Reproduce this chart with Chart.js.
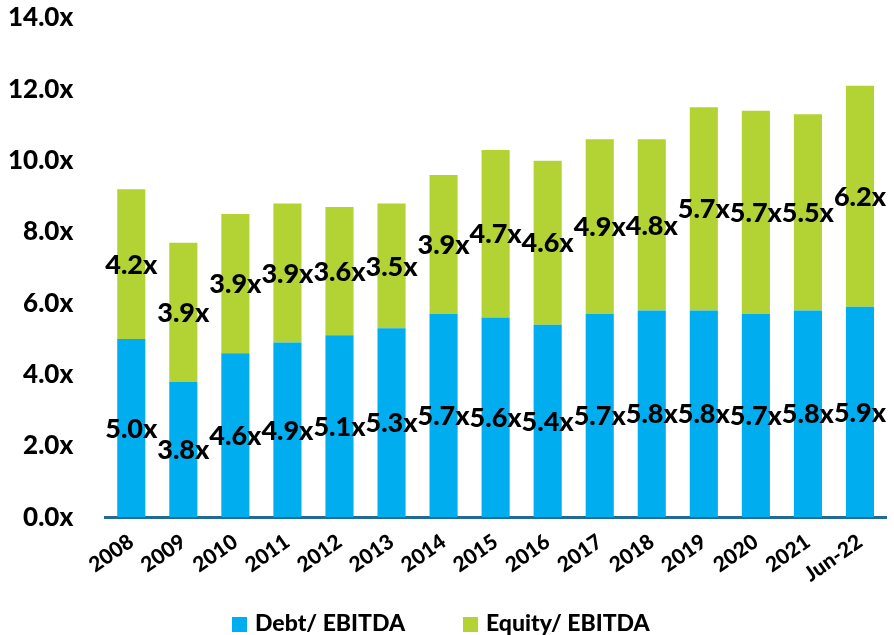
<!DOCTYPE html>
<html>
<head>
<meta charset="utf-8">
<script src="https://cdn.jsdelivr.net/npm/chart.js@4"></script>
<style>
  html, body { margin: 0; padding: 0; background: #fff; }
  #wrap { width: 894px; height: 635px; position: relative; }
  #legend {
    position: absolute; left: 0; top: 609px; width: 894px; height: 27px;
    font: 900 23px Lato, "DejaVu Sans", sans-serif; color: #000;
  }
  .item { position: absolute; top: 0; line-height: 27px; white-space: nowrap; }
  .box { display: inline-block; width: 15px; height: 15px; margin-right: 8px; vertical-align: -1px; }
</style>
</head>
<body>
<div id="wrap">
  <canvas id="chart"></canvas>
  <div id="legend"></div>
</div>
<script>
// Debt and equity multiples, 2008 - Jun-22
const years = ['2008', '2009', '2010', '2011', '2012', '2013', '2014', '2015',
  '2016', '2017', '2018', '2019', '2020', '2021', 'Jun-22'];
const debtEbitda = [5.0, 3.8, 4.6, 4.9, 5.1, 5.3, 5.7, 5.6, 5.4, 5.7, 5.8, 5.8, 5.7, 5.8, 5.9];
const equityEbitda = [4.2, 3.9, 3.9, 3.9, 3.6, 3.5, 3.9, 4.7, 4.6, 4.9, 4.8, 5.7, 5.7, 5.5, 6.2];
const seriesNames = ['Debt/ EBITDA', 'Equity/ EBITDA'];
const seriesColors = ['#00AEEF', '#B3D335'];

const FONT = 'Lato, "DejaVu Sans", sans-serif';

// draw the "5.0x" labels in the middle of each segment
const segmentLabels = {
  id: 'segmentLabels',
  afterDatasetsDraw(chart) {
    const ctx = chart.ctx;
    ctx.save();
    ctx.font = '900 27px ' + FONT;
    ctx.fillStyle = '#000';
    ctx.textAlign = 'center';
    ctx.textBaseline = 'middle';
    chart.data.datasets.forEach((ds, i) => {
      const meta = chart.getDatasetMeta(i);
      meta.data.forEach((bar, j) => {
        const mid = (bar.y + bar.base) / 2;
        ctx.fillText(ds.data[j].toFixed(1) + 'x', bar.x, mid + 1);
      });
    });
    ctx.restore();
  }
};

const chart = new Chart(document.getElementById('chart'), {
  type: 'bar',
  data: {
    labels: years,
    datasets: [
      { label: seriesNames[0], data: debtEbitda, backgroundColor: seriesColors[0] },
      { label: seriesNames[1], data: equityEbitda, backgroundColor: seriesColors[1] }
    ]
  },
  options: {
    responsive: true,
    maintainAspectRatio: false,
    animation: false,
    layout: { padding: { top: 0, right: 8, left: -24, bottom: 36 } },
    datasets: { bar: { barPercentage: 0.54, categoryPercentage: 1.0 } },
    scales: {
      x: {
        stacked: true,
        grid: { display: false, drawTicks: false },
        border: { display: true, color: '#1F6A96', width: 3 },
        ticks: {
          color: '#000',
          font: { family: FONT, size: 21, weight: '900' },
          minRotation: 35,
          maxRotation: 35,
          padding: 12
        }
      },
      y: {
        stacked: true,
        min: 0,
        max: 14,
        grid: { display: false, drawTicks: false },
        border: { display: false },
        // tick padding would otherwise push the plot top down
        afterFit: scale => { scale.paddingTop = 18; },
        ticks: {
          stepSize: 2,
          color: '#000',
          padding: 32,
          font: { family: FONT, size: 26, weight: '900' },
          callback: v => v.toFixed(1) + 'x'
        }
      }
    },
    plugins: {
      legend: { display: false },
      tooltip: { enabled: false }
    }
  },
  plugins: [segmentLabels]
});

// legend below the chart
const legendEl = document.getElementById('legend');
const legendLeft = [232, 463];
seriesNames.forEach((name, i) => {
  const item = document.createElement('span');
  item.className = 'item';
  item.style.left = legendLeft[i] + 'px';
  item.innerHTML = `<span class="box" style="background:${seriesColors[i]}"></span>${name}`;
  legendEl.appendChild(item);
});
</script>
</body>
</html>
